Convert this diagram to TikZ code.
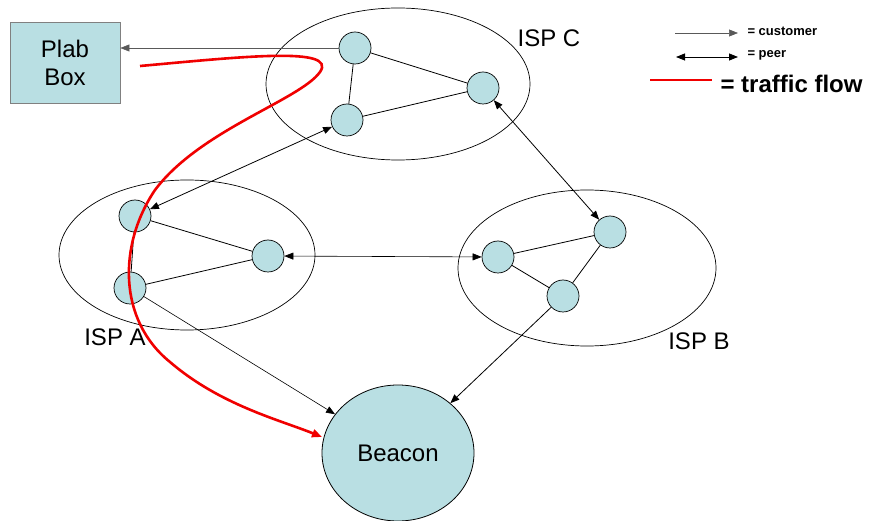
\documentclass[tikz,border=0pt]{standalone}
\usepackage{xcolor}
\usepackage{tikz}
\usepackage{fontspec}
\usetikzlibrary{shapes.geometric, arrows.meta}
\setmainfont{Liberation Sans}
\definecolor{routerblue}{RGB}{185,223,227}
\definecolor{flowred}{RGB}{240,0,0}

\tikzset{
  router/.style={draw, circle, fill=routerblue, minimum size=32pt, inner sep=0pt, line width=0.7pt},
  link/.style={draw, line width=0.8pt},
  customer/.style={-{Triangle[length=9pt, width=7pt]}, line width=0.6pt},
  peer/.style={{Triangle[length=9pt, width=7pt]}-{Triangle[length=9pt, width=7pt]}, line width=0.8pt},
  isplabel/.style={font=\fontsize{24}{28}\selectfont},
}

\begin{document}
\begin{tikzpicture}[x=1pt, y=-1pt]
\useasboundingbox (0,0) rectangle (871,521);
% ISP clouds
\draw[line width=0.7pt] (398,84) ellipse (132 and 76);
\draw[line width=0.7pt] (187,255) ellipse (128 and 75);
\draw[line width=0.7pt] (587,268) ellipse (129 and 78);
\node[isplabel] (lblC) at (549,38) {ISP C};
\node[isplabel] (lblA) at (115,337) {ISP A};
\node[isplabel] (lblB) at (699,341) {ISP B};
% plab box and beacon
\node[draw=gray, line width=0.8pt, fill=routerblue, minimum width=110pt, minimum height=81pt, align=center, isplabel] (plab) at (65,63) {Plab\\Box};
\node[draw, line width=0.8pt, ellipse, fill=routerblue, minimum width=152pt, minimum height=136pt, isplabel] (beacon) at (398,453) {Beacon};
% routers in ISP C
\node[router] (c1) at (355,48) {};
\node[router] (c2) at (483,88) {};
\node[router] (c3) at (347,120) {};
% routers in ISP A
\node[router] (a1) at (135,216) {};
\node[router] (a2) at (268,256) {};
\node[router] (a3) at (130,288) {};
% routers in ISP B
\node[router] (b1) at (498,257) {};
\node[router] (b2) at (610,232) {};
\node[router] (b3) at (563,296) {};
% internal links
\draw[link] (c1) -- (c2);
\draw[link] (c1) -- (c3);
\draw[link] (c3) -- (c2);
\draw[link] (a1) -- (a2);
\draw[link] (a1) -- (a3);
\draw[link] (a3) -- (a2);
\draw[link] (b1) -- (b2);
\draw[link] (b1) -- (b3);
\draw[link] (b3) -- (b2);
% relationships
\draw[customer, gray!70!black] (c1.west) -- (c1.west -| plab.east);
\draw[peer] (a1) -- (c3);
\draw[peer] (c2) -- (b2);
\draw[peer, line width=0.6pt] (a2) -- (b1);
\draw[customer] (a3) -- (beacon);
\draw[customer, line width=0.8pt] (b3) -- (beacon);
% traffic flow
\coordinate (flowstart) at (140,66);
\coordinate (flowend) at (322,437);
\draw[flowred, line width=2.6pt, -{Triangle[length=10pt, width=8pt]}] (flowstart) .. controls (240,57) and (338,46) .. (320,72)
  .. controls (300,100) and (200,130) .. (155,190)
  .. controls (118,245) and (118,320) .. (170,362)
  .. controls (220,405) and (280,420) .. (flowend);
% legend
\coordinate (custA) at (675,33);
\coordinate (custB) at (738,33);
\coordinate (peerA) at (676,57);
\coordinate (peerB) at (738,57);
\coordinate (flowA) at (650,80);
\coordinate (flowB) at (712,80);
\draw[customer, gray!70!black] (custA) -- (custB);
\draw[peer] (peerA) -- (peerB);
\draw[flowred, line width=2.8pt] (flowA) -- (flowB);
\node[anchor=west, font=\bfseries\fontsize{13}{15}\selectfont] (custtxt) at (744,31) {= customer};
\node[anchor=west, font=\bfseries\fontsize{13}{15}\selectfont] (peertxt) at (744,55) {= peer};
\node[anchor=west, font=\bfseries\fontsize{24}{28}\selectfont] (flowtxt) at (717,84) {= traffic flow};
\end{tikzpicture}
\end{document}
